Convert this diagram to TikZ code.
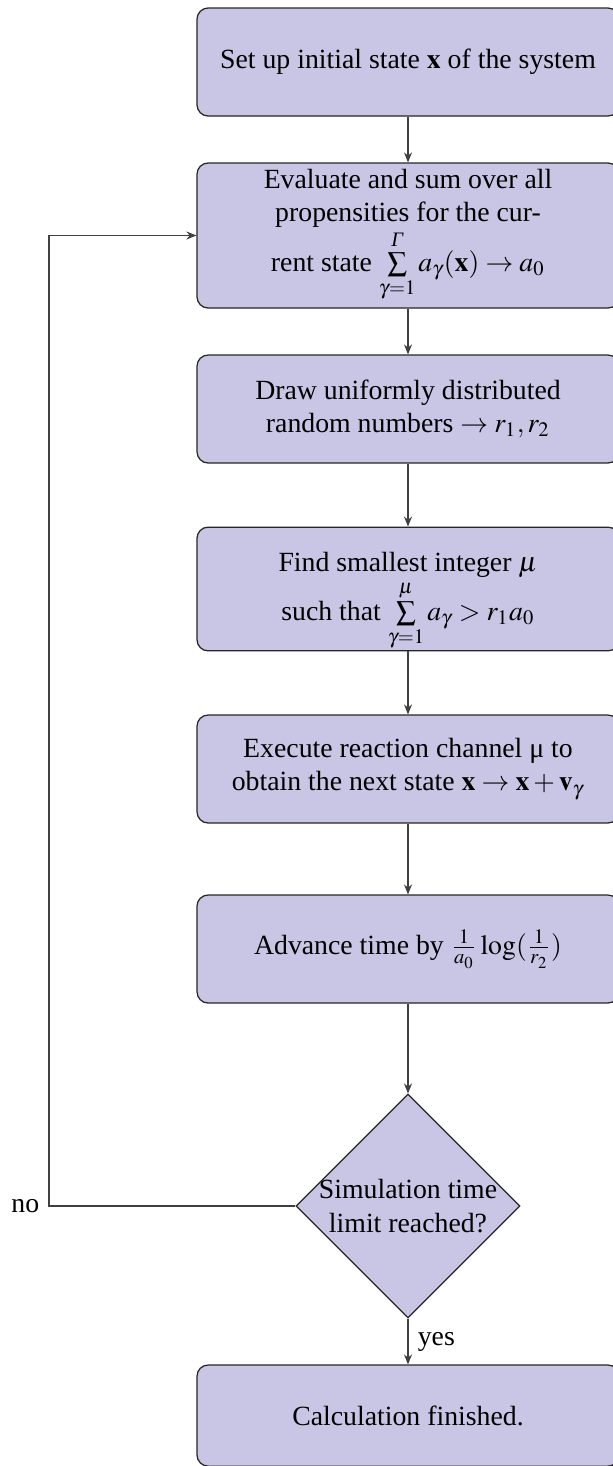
\documentclass[tikz,border=0pt]{standalone}
\usepackage{amsmath}
\usepackage{mathptmx}
\usepackage{fontspec}
\setmainfont{Liberation Serif}
\usetikzlibrary{shapes.geometric,arrows.meta}
\definecolor{boxfill}{RGB}{201,198,229}
\begin{document}
\begin{tikzpicture}[x=1pt,y=1pt,
  stepbox/.style={draw=black!85, fill=boxfill, rounded corners=4pt, minimum width=151.9pt, align=center, inner sep=2pt, line width=0.45pt},
  decision/.style={draw=black!85, fill=boxfill, diamond, aspect=1, minimum width=80.6pt, minimum height=80.6pt, inner sep=-1.5pt, align=center, line width=0.45pt},
  flow/.style={draw=black!75, line width=0.4pt, -{Stealth[length=3.6pt,width=2.9pt]}},
  lab/.style={text=black}
]
\useasboundingbox (0,0) rectangle (220.32,-527.76);
\node[stepbox, minimum height=38.88pt] (s1) at (146.88,-22.32) {Set up initial state $\mathbf{x}$ of the system};
\node[stepbox, minimum height=52.2pt] (s2) at (146.88,-84.78) {Evaluate and sum over all\\propensities for the cur-\\rent state $\sum\limits_{\gamma=1}^{\text{\itshape Γ}} a_\gamma(\mathbf{x}) \rightarrow a_0$};
\node[stepbox, minimum height=38.88pt] (s3) at (146.88,-147.24) {Draw uniformly distributed\\random numbers $\rightarrow r_1, r_2$};
\node[stepbox, minimum height=41.04pt, inner sep=0pt] (s4) at (146.88,-212.04) {\rule{0pt}{16pt}Find smallest integer $\mu$\\such that $\sum\limits_{\gamma=1}^{\mu} a_\gamma > r_1 a_0$};
\node[stepbox, minimum height=38.88pt] (s5) at (146.88,-276.84) {Execute reaction channel μ to\\obtain the next state $\mathbf{x} \rightarrow \mathbf{x} + \mathbf{v}_\gamma$};
\node[stepbox, minimum height=38.88pt] (s6) at (146.88,-341.64) {Advance time by $\frac{1}{a_0}\log(\frac{1}{r_2})$};
\node[decision] (d) at (146.88,-434.16) {Simulation time\\limit reached?};
\node[stepbox, minimum height=36.4pt] (s7) at (146.88,-509.6) {Calculation finished.};
\coordinate (c1) at (17.64,-434.16);
\coordinate (c2) at (17.64,-84.78);
\draw[flow] (s1) -- (s2);
\draw[flow] (s2) -- (s3);
\draw[flow] (s3) -- (s4);
\draw[flow] (s4) -- (s5);
\draw[flow] (s5) -- (s6);
\draw[flow] (s6) -- (d);
\draw[flow] (d.south) -- node[right, lab] (yeslab) {yes} (s7.north);
\draw[flow] (d.west) -- (c1) -- (c2) -- (s2.west);
\node[left, lab] (nolab) at (c1) {no};
\end{tikzpicture}
\end{document}
